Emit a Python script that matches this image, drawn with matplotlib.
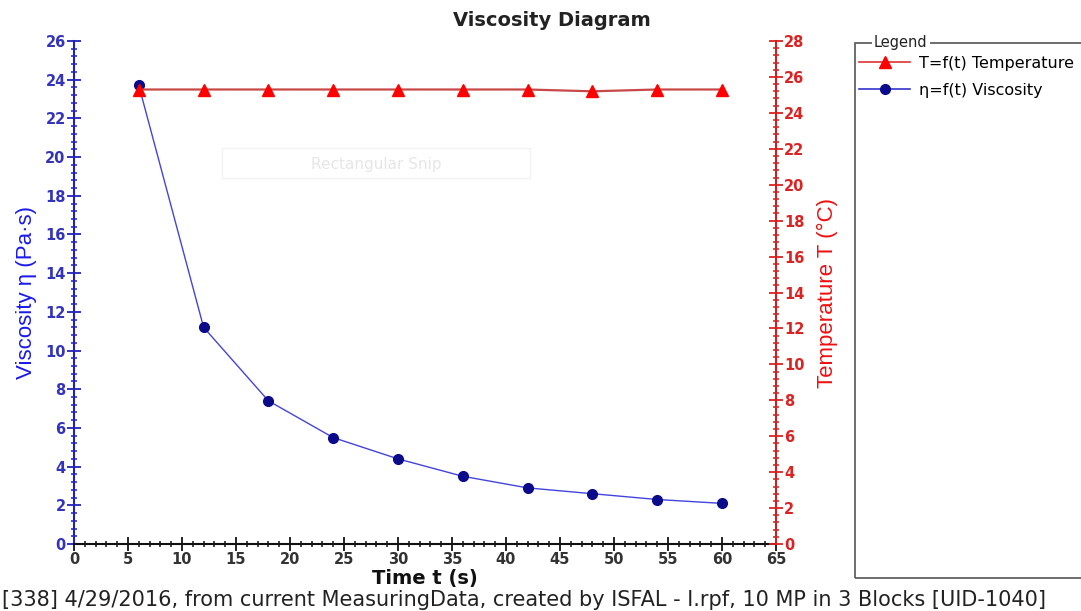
import matplotlib
matplotlib.use("Agg")
from matplotlib import pyplot as plt
from matplotlib.ticker import MultipleLocator, AutoMinorLocator
from matplotlib.lines import Line2D
from matplotlib.patches import Rectangle

# measured points: time (s), viscosity (Pa·s), temperature (°C)
time_s = [6, 12, 18, 24, 30, 36, 42, 48, 54, 60]
viscosity = [23.7, 11.2, 7.4, 5.5, 4.4, 3.5, 2.9, 2.6, 2.3, 2.1]
temperature = [25.3, 25.3, 25.3, 25.3, 25.3, 25.3, 25.3, 25.2, 25.3, 25.3]

footer = "[338] 4/29/2016, from current MeasuringData, created by ISFAL - I.rpf, 10 MP in 3 Blocks [UID-1040]"

plt.rcParams['font.family'] = ['DejaVu Sans']

W, H = 1081, 611
fig = plt.figure(figsize=(W / 100, H / 100), dpi=100)
ax = fig.add_axes([74 / W, 1 - 544 / H, (776 - 74) / W, (544 - 41) / H])
ax2 = ax.twinx()

blue = "#2222bb"
red = "#dd2222"

ax.plot(time_s, viscosity, color="#4444dd", lw=1.0, marker="o", ms=7,
        mfc="#0a0a8a", mec="#0a0a8a", zorder=3)
ax2.plot(time_s, temperature, color="#c84848", lw=1.6, marker="^", ms=8,
         mfc="#ff0000", mec="#ff0000", zorder=3)

ax.set_xlim(0, 65)
ax.set_ylim(0, 26)
ax2.set_ylim(0, 28)

ax.xaxis.set_major_locator(MultipleLocator(5))
ax.xaxis.set_minor_locator(MultipleLocator(1))
ax.yaxis.set_major_locator(MultipleLocator(2))
ax.yaxis.set_minor_locator(AutoMinorLocator(5))
ax2.yaxis.set_major_locator(MultipleLocator(2))
ax2.yaxis.set_minor_locator(AutoMinorLocator(5))

for a in (ax, ax2):
    a.spines['top'].set_visible(False)
ax.spines['right'].set_visible(False)
ax2.spines['left'].set_visible(False)
ax2.spines['bottom'].set_visible(False)
ax.spines['left'].set_color(blue)
ax.spines['left'].set_linewidth(1.5)
ax.spines['bottom'].set_color("#111111")
ax.spines['bottom'].set_linewidth(1.5)
ax2.spines['right'].set_color("#cc2222")
ax2.spines['right'].set_linewidth(1.5)

ax.tick_params(axis='x', which='major', direction='inout', length=10, width=1.3,
               colors="#111111", labelsize=10.5, pad=1)
ax.tick_params(axis='x', which='minor', direction='inout', length=5, width=1.1,
               color="#111111")
ax.tick_params(axis='y', which='major', direction='inout', length=10, width=1.3,
               colors=blue, labelsize=10.5, pad=1)
ax.tick_params(axis='y', which='minor', direction='inout', length=5, width=1.1,
               color=blue)
ax2.tick_params(axis='y', which='major', direction='inout', length=10, width=1.3,
                colors=red, labelsize=10.5, pad=1)
ax2.tick_params(axis='y', which='minor', direction='inout', length=5, width=1.1,
                color="#cc2222")

for lbl in ax.get_xticklabels() + ax.get_yticklabels() + ax2.get_yticklabels():
    lbl.set_fontweight('bold')
for lbl in ax.get_xticklabels():
    lbl.set_color("#333333")
for lbl in ax.get_yticklabels():
    lbl.set_color("#3333bb")

narrow = ['Liberation Sans', 'DejaVu Sans']
ax.set_ylabel("Viscosity η (Pa·s)", color="#1a1aee", fontsize=16,
              family=narrow, labelpad=6)
ax2.set_ylabel("Temperature T (°C)", color="#ee1111", fontsize=16,
               family=narrow, labelpad=9)
ax.set_xlabel("Time t (s)", fontsize=14, fontweight='bold', labelpad=1,
              color="#111111")
fig.text(552 / W, 1 - 20 / H, "Viscosity Diagram", ha='center', va='center',
         fontsize=14, fontweight='bold', color="#222222")

# faint overlay box from the capture tool
fig.patches.append(Rectangle((222 / W, 1 - 178 / H), 308 / W, 30 / H,
                             transform=fig.transFigure, fill=False,
                             ec="#f2f2f2", lw=1))
fig.text(376 / W, 1 - 164 / H, "Rectangular Snip", ha='center', va='center',
         color="#e6e6e6", fontsize=11)

# legend panel
fig.patches.append(Rectangle((855 / W, 1 - 578 / H), 240 / W, 535 / H,
                             transform=fig.transFigure, fill=False,
                             ec="#555555", lw=1.2))
fig.text(874 / W, 1 - 43 / H, "Legend", ha='left', va='center', fontsize=10.5,
         color="#222222", bbox=dict(fc='white', ec='none', pad=1.5))
handles = [
    Line2D([], [], color="#dd3333", lw=1.2, marker="^", ms=8,
           mfc="#ff0000", mec="#ff0000"),
    Line2D([], [], color="#3333cc", lw=1.2, marker="o", ms=7,
           mfc="#0a0a8a", mec="#0a0a8a"),
]
fig.legend(handles, ["T=f(t) Temperature", "η=f(t) Viscosity"],
           loc='upper left', bbox_to_anchor=(859 / W, 1 - 56 / H),
           frameon=False, handlelength=3.2, handletextpad=0.55,
           labelspacing=0.75, borderaxespad=0, borderpad=0,
           prop={'size': 11.5})

fig.text(2 / W, 1 - 600 / H, footer, ha='left', va='center', fontsize=15,
         color="#222222")

fig.savefig("out.png", dpi=100)
